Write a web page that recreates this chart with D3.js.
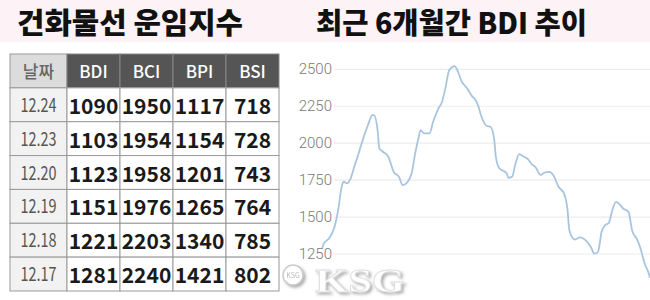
<!DOCTYPE html>
<html>
<head>
<meta charset="utf-8">
<title>건화물선 운임지수</title>
<script src="https://d3js.org/d3.v7.min.js"></script>
<style>
  body { margin: 0; background: #fff; }
  svg { display: block; font-family: "Noto Sans CJK KR", "Noto Sans", sans-serif; }
</style>
</head>
<body>
<script>
// table data
const dates = ["12.24", "12.23", "12.20", "12.19", "12.18", "12.17"];
const indexNames = ["BDI", "BCI", "BPI", "BSI"];
const bdi = [1090, 1103, 1123, 1151, 1221, 1281];
const bci = [1950, 1954, 1958, 1976, 2203, 2240];
const bpi = [1117, 1154, 1201, 1265, 1340, 1421];
const bsi = [718, 728, 743, 764, 785, 802];

// 6 month BDI trend: day offset from start, value
const trendDays = [0, 1, 4, 7, 9, 11, 12, 14, 16, 18, 21, 23, 26, 28, 29, 31, 32, 34, 37, 40, 43, 45, 47, 50, 52, 54, 55, 57, 60, 62, 65, 67, 69, 71, 74, 75, 78, 81, 84, 85, 87, 89, 92, 94, 96, 97, 99, 101, 103, 104, 106, 108, 110, 112, 115, 117, 119, 122, 124, 127, 129, 132, 135, 137, 138, 141, 144, 147, 150, 152, 154, 156, 158, 160, 162, 164, 166, 168, 171, 173, 176, 178, 180, 182, 183];
const trendBdi = [1285, 1320, 1356, 1434, 1547, 1705, 1739, 1728, 1762, 1840, 1953, 2032, 2134, 2190, 2190, 2089, 1965, 1942, 1908, 1806, 1772, 1716, 1728, 1796, 1931, 2043, 2089, 2066, 2066, 2145, 2236, 2281, 2382, 2495, 2522, 2507, 2416, 2371, 2314, 2303, 2258, 2179, 2116, 2111, 2032, 1908, 1829, 1813, 1796, 1766, 1772, 1863, 1926, 1913, 1890, 1858, 1840, 1784, 1800, 1806, 1784, 1705, 1660, 1547, 1411, 1348, 1362, 1344, 1298, 1253, 1265, 1400, 1445, 1460, 1547, 1603, 1587, 1558, 1535, 1411, 1344, 1276, 1186, 1129, 1090];
const yTicks = [1250, 1500, 1750, 2000, 2250, 2500];

const W = 650, H = 300;
const svg = d3.select("body").append("svg").attr("width", W).attr("height", H);

// title band
svg.append("rect").attr("width", W).attr("height", 42).attr("fill", "#fdf2f5");
svg.append("text").attr("x", 17).attr("y", 34)
  .attr("font-size", 29).attr("font-weight", 900).attr("fill", "#111")
  .attr("textLength", 226).attr("lengthAdjust", "spacingAndGlyphs")
  .text("건화물선 운임지수");
svg.append("text").attr("x", 316).attr("y", 34)
  .attr("font-size", 29).attr("font-weight", 900).attr("fill", "#111")
  .attr("textLength", 271).attr("lengthAdjust", "spacingAndGlyphs")
  .text("최근 6개월간 BDI 추이");

// ---- table ----
const values = [bdi, bci, bpi, bsi];
const rows = d3.scaleBand().domain(["head", ...dates]).range([54, 291]);
const cols = d3.scaleBand().domain(indexNames).range([67, 279]);
const dateX0 = 10, dateX1 = 67;

const table = svg.append("g");

// header
table.append("rect").attr("x", dateX0).attr("y", rows("head"))
  .attr("width", dateX1 - dateX0).attr("height", rows.bandwidth())
  .attr("fill", "#dcdcdc").attr("stroke", "#999");
table.append("text").attr("x", (dateX0 + dateX1) / 2).attr("y", rows("head") + 24)
  .attr("text-anchor", "middle").attr("font-size", 17).attr("font-weight", 500)
  .attr("fill", "#666").text("날짜");
table.selectAll(".hcell").data(indexNames).join("rect")
  .attr("x", d => cols(d)).attr("y", rows("head"))
  .attr("width", cols.bandwidth()).attr("height", rows.bandwidth())
  .attr("fill", "#555").attr("stroke", "#888");
table.selectAll(".htext").data(indexNames).join("text")
  .attr("x", d => cols(d) + cols.bandwidth() / 2).attr("y", rows("head") + 24)
  .attr("text-anchor", "middle").attr("font-size", 17).attr("font-weight", 500)
  .attr("fill", "#fff").text(d => d);

// body
dates.forEach((dt, i) => {
  const y = rows(dt);
  table.append("rect").attr("x", dateX0).attr("y", y)
    .attr("width", dateX1 - dateX0).attr("height", rows.bandwidth())
    .attr("fill", "#f2f2f2").attr("stroke", "#999");
  table.append("text").attr("x", (dateX0 + dateX1) / 2).attr("y", y + 24)
    .attr("text-anchor", "middle").attr("font-size", 19).attr("fill", "#555")
    .attr("textLength", 36).attr("lengthAdjust", "spacingAndGlyphs")
    .text(dt);
  indexNames.forEach((name, j) => {
    table.append("rect").attr("x", cols(name)).attr("y", y)
      .attr("width", cols.bandwidth()).attr("height", rows.bandwidth())
      .attr("fill", "#fff").attr("stroke", "#999");
    table.append("text").attr("x", cols(name) + cols.bandwidth() / 2).attr("y", y + 26)
      .attr("text-anchor", "middle").attr("font-size", 21).attr("font-weight", 700)
      .attr("fill", "#1a1a1a").text(values[j][i]);
  });
});

// ---- line chart ----
const x = d3.scaleLinear().domain([0, 183]).range([322, 650]);
const y = d3.scaleLinear().domain([1250, 2500]).range([254, 69.3]);

const chart = svg.append("g");
chart.selectAll(".grid").data(yTicks).join("line")
  .attr("x1", 334).attr("x2", W)
  .attr("y1", d => y(d)).attr("y2", d => y(d))
  .attr("stroke", "#ececec").attr("stroke-width", 1.2);

const pts = trendDays.map((d, i) => [d, trendBdi[i]]);
chart.append("path").datum(pts)
  .attr("fill", "none").attr("stroke", "#a9c5de").attr("stroke-width", 1.8)
  .attr("d", d3.line().x(d => x(d[0])).y(d => y(d[1])).curve(d3.curveMonotoneX));

chart.selectAll(".ylab").data(yTicks).join("text")
  .attr("x", 332).attr("y", d => y(d) + 5)
  .attr("text-anchor", "end").attr("font-size", 15).attr("font-family", "Roboto, sans-serif")
  .attr("font-weight", 300).attr("fill", "#7a7a7a").text(d => d);

// ---- KSG watermark ----
const defs = svg.append("defs");
const f = defs.append("filter").attr("id", "sh").attr("x", "-20%").attr("y", "-20%").attr("width", "140%").attr("height", "140%");
f.append("feDropShadow").attr("dx", 2).attr("dy", 2).attr("stdDeviation", 1.5).attr("flood-color", "#999").attr("flood-opacity", 0.8);
const wm = svg.append("g").attr("filter", "url(#sh)");
wm.append("circle").attr("cx", 293).attr("cy", 275).attr("r", 10)
  .attr("fill", "#fff").attr("stroke", "#ccc").attr("stroke-width", 1.5);
wm.append("text").attr("x", 293).attr("y", 278).attr("text-anchor", "middle")
  .attr("font-size", 7).attr("fill", "#bbb").text("KSG");
wm.append("text").attr("x", 315).attr("y", 292)
  .attr("font-family", "'Liberation Serif', 'DejaVu Serif', serif")
  .attr("font-size", 34).attr("font-weight", 700).attr("fill", "#fff")
  .attr("stroke", "#ddd").attr("stroke-width", 0.8)
  .attr("textLength", 90).attr("lengthAdjust", "spacingAndGlyphs")
  .text("KSG");
</script>
</body>
</html>
